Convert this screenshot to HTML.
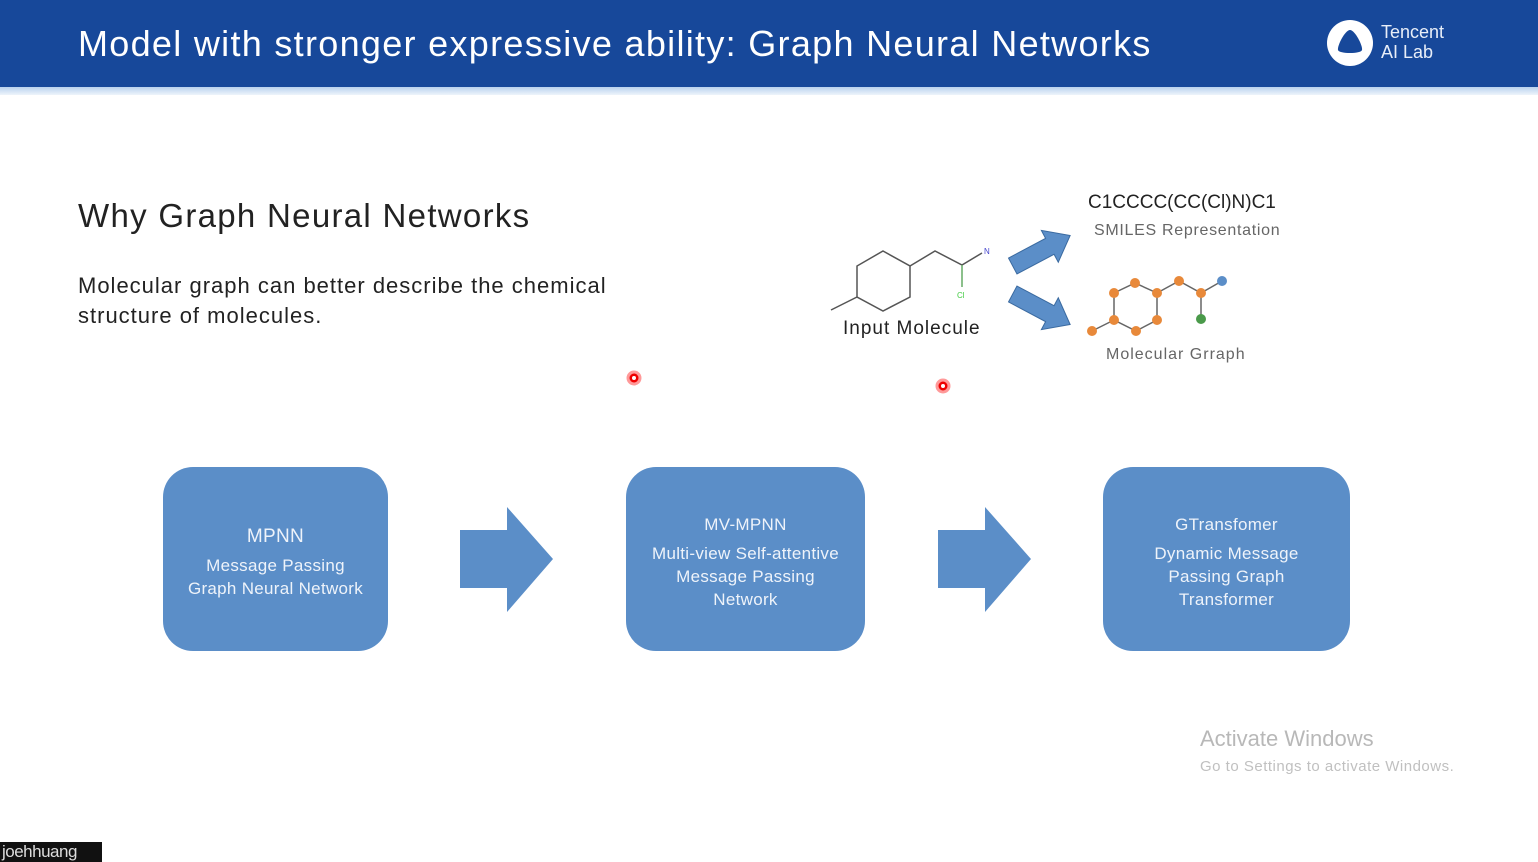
<!DOCTYPE html>
<html><head><meta charset="utf-8"><style>
body{margin:0;width:1538px;height:862px;position:relative;background:#fff;font-family:"Liberation Sans",sans-serif;overflow:hidden}
.hdr{position:absolute;left:0;top:0;width:1538px;height:87px;background:#17489a}
.strip{position:absolute;left:0;top:87px;width:1538px;height:8px;background:linear-gradient(#b9d2ee,#eef4fb)}
.t{position:absolute;white-space:nowrap}
.box{position:absolute;top:467px;height:184px;background:#5b8ec8;border-radius:30px;color:#eef3fa;text-align:center;font-size:17px;line-height:23px;display:flex;flex-direction:column;justify-content:center;letter-spacing:0.3px;padding-top:6px;box-sizing:border-box}
</style></head><body>
<div class="hdr"></div><div class="strip"></div>
<div class="t" style="left:78px;top:23px;font-size:36px;color:#fff;letter-spacing:1.3px">Model with stronger expressive ability: Graph Neural Networks</div>
<svg style="position:absolute;left:1326px;top:19px" width="48" height="48"><circle cx="24" cy="24" r="23" fill="#fff"/><path d="M24 11 C29 11 37 27 36 31 C35 35 13 35 12 31 C11 27 19 11 24 11Z" fill="#17489a"/></svg>
<div class="t" style="left:1381px;top:22px;font-size:18px;line-height:20px;color:#e8eef8">Tencent<br>AI Lab</div>
<div class="t" style="left:78px;top:197px;font-size:33px;color:#222;letter-spacing:1.3px">Why Graph Neural Networks</div>
<div class="t" style="left:78px;top:271px;font-size:22px;line-height:30px;color:#222;letter-spacing:1px">Molecular graph can better describe the chemical<br>structure of molecules.</div>
<svg style="position:absolute;left:0;top:0" width="1538" height="862">
<g stroke="#555" stroke-width="1.5" fill="none">
<polygon points="883,251 910,266 910,297 883,311 857,297 857,266"/>
<polyline points="857,297 831,310"/>
<polyline points="910,266 935,251 962,265 982,253"/>
<line x1="962" y1="265" x2="962" y2="287" stroke="#6a6"/>
</g>
<text x="984" y="254" font-size="8" fill="#44c" font-family="Liberation Sans">N</text>
<text x="957" y="298" font-size="8" fill="#4c4" font-family="Liberation Sans">Cl</text>
<g transform="translate(1041,251) rotate(-28)"><polygon points="-32,-9 10,-9 10,-18 33,0 10,18 10,9 -32,9" fill="#5b8ec8" stroke="#3a6aa0"/></g>
<g transform="translate(1041,309) rotate(28)"><polygon points="-32,-9 10,-9 10,-18 33,0 10,18 10,9 -32,9" fill="#5b8ec8" stroke="#3a6aa0"/></g>
<g stroke="#666" stroke-width="1.5">
<polyline fill="none" points="1114,293 1135,283 1157,293 1157,320 1136,331 1114,320 1114,293"/>
<polyline fill="none" points="1157,293 1179,281 1201,293 1222,281"/>
<line x1="1201" y1="293" x2="1201" y2="319"/><line x1="1114" y1="320" x2="1092" y2="331"/>
</g>
<g fill="#e8893a">
<circle cx="1114" cy="293" r="5"/><circle cx="1135" cy="283" r="5"/><circle cx="1157" cy="293" r="5"/><circle cx="1157" cy="320" r="5"/><circle cx="1136" cy="331" r="5"/><circle cx="1114" cy="320" r="5"/><circle cx="1179" cy="281" r="5"/><circle cx="1201" cy="293" r="5"/><circle cx="1092" cy="331" r="5"/>
</g>
<circle cx="1222" cy="281" r="5" fill="#5b8ec8"/><circle cx="1201" cy="319" r="5" fill="#4a9a4a"/>
<circle cx="634" cy="378" r="6" fill="#e00" stroke="#f99" stroke-width="3"/><circle cx="634" cy="378" r="2" fill="#fff"/>
<circle cx="943" cy="386" r="6" fill="#e00" stroke="#f99" stroke-width="3"/><circle cx="943" cy="386" r="2" fill="#fff"/>
<polygon points="460,530 507,530 507,507 553,559 507,612 507,588 460,588" fill="#5b8ec8"/>
<polygon points="938,530 985,530 985,507 1031,559 985,612 985,588 938,588" fill="#5b8ec8"/>
</svg>
<div class="t" style="left:843px;top:318px;font-size:19px;color:#222;letter-spacing:1px">Input Molecule</div>
<div class="t" style="left:1088px;top:192px;font-size:19px;color:#222">C1CCCC(CC(Cl)N)C1</div>
<div class="t" style="left:1094px;top:222px;font-size:16px;color:#666;letter-spacing:0.7px">SMILES Representation</div>
<div class="t" style="left:1106px;top:346px;font-size:16px;color:#666;letter-spacing:1px">Molecular Grraph</div>
<div class="box" style="left:163px;width:225px"><div style="font-size:19px;margin-bottom:6px">MPNN</div><div>Message Passing<br>Graph Neural Network</div></div>
<div class="box" style="left:626px;width:239px"><div style="margin-bottom:6px">MV-MPNN</div><div>Multi-view Self-attentive<br>Message Passing<br>Network</div></div>
<div class="box" style="left:1103px;width:247px"><div style="margin-bottom:6px">GTransfomer</div><div>Dynamic Message<br>Passing Graph<br>Transformer</div></div>
<div class="t" style="left:1200px;top:726px;font-size:22px;color:#b8b8b8">Activate Windows</div>
<div class="t" style="left:1200px;top:758px;font-size:15px;color:#c0c0c0;letter-spacing:0.5px">Go to Settings to activate Windows.</div>
<div class="t" style="left:0;top:842px;width:100px;height:20px;background:#111;color:#ddd;font-size:17px;line-height:20px;padding-left:2px;letter-spacing:-0.5px">joehhuang</div>
</body></html>
